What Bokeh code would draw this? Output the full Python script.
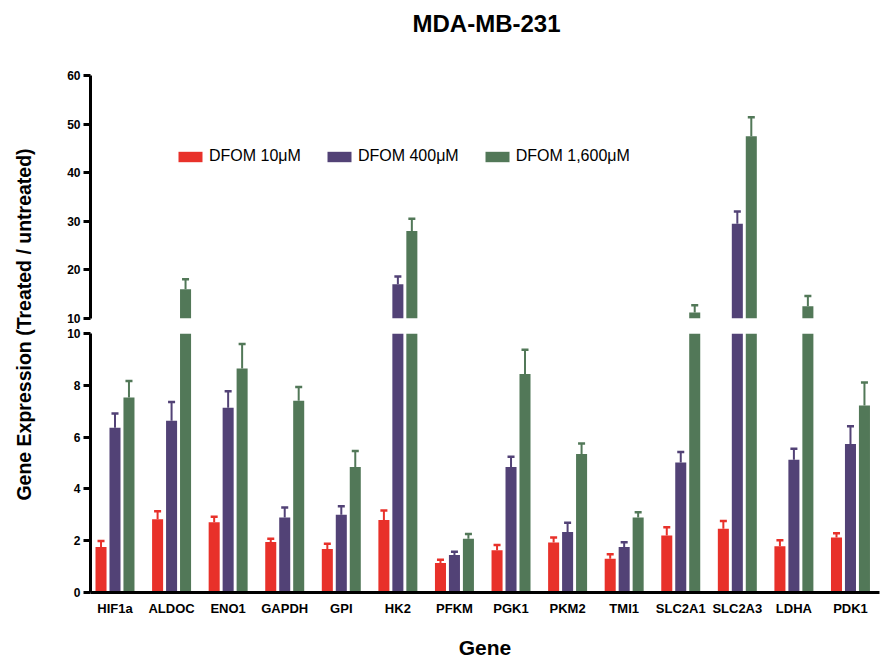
import numpy as np
from math import pi
from bokeh.plotting import figure
from bokeh.models import (Range1d, FixedTicker, Legend, LegendItem, Label,
                          ColumnDataSource, CDSView, BooleanFilter)
from bokeh.layouts import row, column
from bokeh.embed import file_html
from bokeh.resources import INLINE

# ---------------- data ----------------
genes = ["HIF1a", "ALDOC", "ENO1", "GAPDH", "GPI", "HK2", "PFKM", "PGK1",
         "PKM2", "TMI1", "SLC2A1", "SLC2A3", "LDHA", "PDK1"]
series = ["DFOM 10\u03bcM", "DFOM 400\u03bcM", "DFOM 1,600\u03bcM"]

val_10 = [1.76, 2.83, 2.71, 1.95, 1.68, 2.80, 1.14, 1.63, 1.93, 1.30, 2.20, 2.46, 1.79, 2.12]
err_10 = [0.23, 0.31, 0.21, 0.13, 0.20, 0.37, 0.12, 0.20, 0.19, 0.18, 0.32, 0.30, 0.23, 0.17]
val_400 = [6.36, 6.63, 7.13, 2.90, 3.00, 17.06, 1.45, 4.85, 2.34, 1.76, 5.02, 29.5, 5.13, 5.73]
err_400 = [0.55, 0.73, 0.64, 0.38, 0.33, 1.58, 0.12, 0.39, 0.35, 0.18, 0.40, 2.5, 0.42, 0.69]
val_1600 = [7.53, 16.0, 8.65, 7.40, 4.85, 28.0, 2.08, 8.44, 5.35, 2.90, 11.23, 47.5, 12.53, 7.22]
err_1600 = [0.64, 2.1, 0.94, 0.53, 0.61, 2.5, 0.18, 0.93, 0.40, 0.20, 1.5, 3.9, 2.1, 0.89]

upper_ticks = [10, 20, 30, 40, 50, 60]
lower_ticks = [0, 2, 4, 6, 8, 10]

title_text = "MDA-MB-231"
y_label = "Gene Expression (Treated / untreated)"
x_label = "Gene"

# ---------------- style ----------------
FONT = "Liberation Sans"
colors = ["#E8312A", "#524276", "#527858"]
offsets = [-0.247, 0.0, 0.247]
bar_w = 0.195
cap_w = 0.124
values = [val_10, val_400, val_1600]
errors = [err_10, err_400, err_1600]
xpos = np.arange(len(genes))
x_range = Range1d(-0.433, 13.513)


def style_y(p, ticks):
    ax = p.yaxis[0]
    ax.ticker = FixedTicker(ticks=ticks)
    ax.axis_line_width = 3
    ax.axis_line_color = "black"
    ax.major_tick_line_width = 3
    ax.major_tick_line_color = "black"
    ax.major_tick_out = 7
    ax.major_tick_in = 0
    ax.minor_tick_line_color = None
    ax.major_label_text_font = FONT
    ax.major_label_text_font_style = "bold"
    ax.major_label_text_font_size = "12px"
    ax.major_label_text_color = "black"
    ax.major_label_standoff = 3


def draw(p, floor):
    """Draw bars + upward error bars; floor = bottom of this panel's y range."""
    rs = []
    for vals, errs, off, col in zip(values, errors, offsets, colors):
        v = np.array(vals, dtype=float)
        e = np.array(errs, dtype=float)
        xs = xpos + off
        src = ColumnDataSource(dict(x=xs, top=np.maximum(v, floor), etop=v + e,
                                    cx0=xs - cap_w / 2, cx1=xs + cap_w / 2))
        view = CDSView(filter=BooleanFilter(list(v > floor)))
        r = p.vbar(x="x", top="top", bottom=floor, width=bar_w, fill_color=col,
                   line_color=None, source=src)
        p.segment(x0="x", y0="top", x1="x", y1="etop", line_color=col,
                  line_width=2, source=src, view=view)
        p.segment(x0="cx0", y0="etop", x1="cx1", y1="etop", line_color=col,
                  line_width=2.5, source=src, view=view)
        rs.append(r)
    return rs


def blank(width, height, xr, yr):
    f = figure(width=width, height=height, x_range=Range1d(*xr), y_range=Range1d(*yr),
               output_backend="svg", toolbar_location=None,
               min_border=0, min_border_left=0, min_border_right=0,
               min_border_top=0, min_border_bottom=0)
    f.axis.visible = False
    f.grid.visible = False
    f.outline_line_color = None
    return f


# ---------------- title strip ----------------
ttl = blank(882, 50, (0, 882), (0, 50))
ttl.add_layout(Label(x=486, y=27, text=title_text, text_align="center",
                     text_baseline="middle", text_font=FONT,
                     text_font_size="24px", text_font_style="bold",
                     text_color="black"))

W = 841
# ---------------- upper panel ----------------
top = figure(width=W, height=275, x_range=x_range, y_range=Range1d(10, 60),
             output_backend="svg", toolbar_location=None,
             min_border_left=50, min_border_right=2, min_border_top=25,
             min_border_bottom=7)
rs = draw(top, 10)
top.xaxis.visible = False
style_y(top, upper_ticks)
top.grid.visible = False
top.outline_line_color = None

legend = Legend(items=[LegendItem(label=s, renderers=[r]) for s, r in zip(series, rs)],
                orientation="horizontal", location=(85, 153))
legend.glyph_width = 30
legend.glyph_height = 13
legend.label_height = 16
legend.label_standoff = 4
legend.spacing = 23
legend.padding = 0
legend.margin = 0
legend.border_line_color = None
legend.background_fill_alpha = 0
legend.label_text_font = FONT
legend.label_text_font_size = "16px"
legend.label_text_color = "black"
top.add_layout(legend, "center")

# ---------------- lower panel ----------------
bot = figure(width=W, height=337, x_range=x_range, y_range=Range1d(0, 10),
             output_backend="svg", toolbar_location=None,
             min_border_left=50, min_border_right=2, min_border_top=8,
             min_border_bottom=70)
draw(bot, 0)
style_y(bot, lower_ticks)
bot.grid.visible = False
bot.outline_line_color = None
xa = bot.xaxis[0]
xa.ticker = FixedTicker(ticks=list(xpos))
xa.major_label_overrides = {int(i): g for i, g in enumerate(genes)}
xa.axis_line_width = 3
xa.axis_line_color = "black"
xa.major_tick_line_color = None
xa.minor_tick_line_color = None
xa.major_label_text_font = FONT
xa.major_label_text_font_style = "bold"
xa.major_label_text_font_size = "13px"
xa.major_label_text_color = "black"
xa.major_label_standoff = 2
xa.axis_label = x_label
xa.axis_label_text_font = FONT
xa.axis_label_text_font_style = "bold"
xa.axis_label_text_font_size = "21px"
xa.axis_label_text_color = "black"
xa.axis_label_standoff = 17

# ---------------- y label strip ----------------
lab = blank(40, 612, (0, 40), (0, 612))
lab.add_layout(Label(x=23, y=338, text=y_label, angle=pi / 2,
                     text_align="center", text_baseline="middle",
                     text_font=FONT, text_font_style="bold",
                     text_font_size="19.5px", text_color="black"))

layout = column(ttl, row(lab, column(top, bot)))
open("out.html", "w").write(file_html(layout, INLINE))
